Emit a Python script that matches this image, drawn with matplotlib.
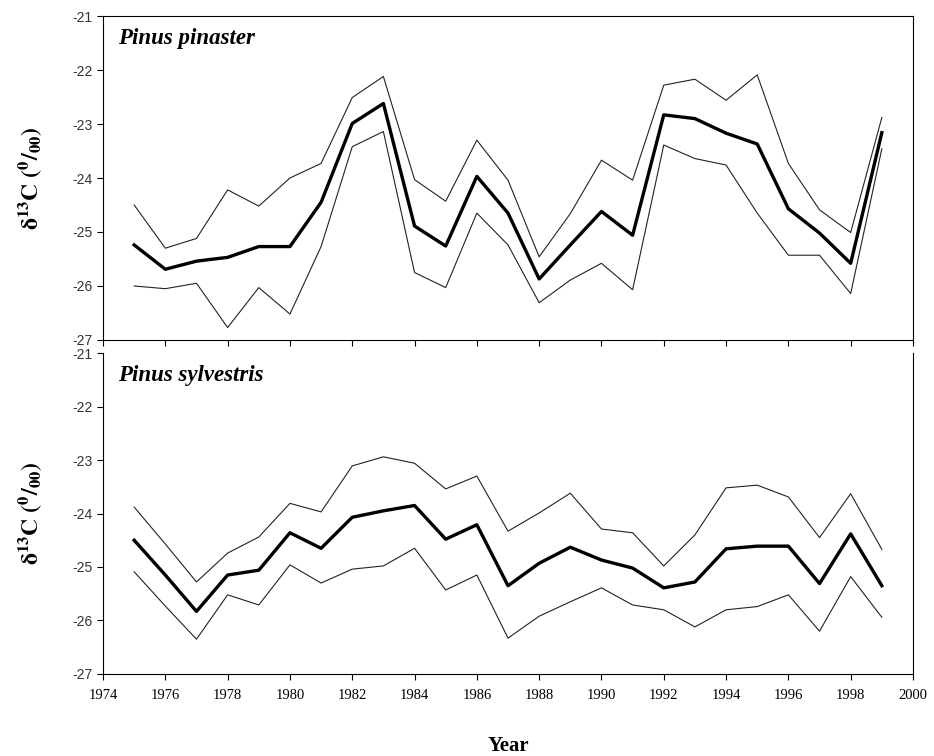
import matplotlib
matplotlib.use("Agg")
import matplotlib.pyplot as plt
import numpy as np

years = list(range(1975, 2000))

# Pinus pinaster
pinaster_mean = [-25.24, -25.69, -25.54, -25.47, -25.27, -25.27, -24.45, -22.99, -22.62, -24.89,
                 -25.26, -23.97, -24.65, -25.87, -25.24, -24.62, -25.06, -22.83, -22.90, -23.17,
                 -23.37, -24.57, -25.02, -25.58, -23.16]
pinaster_upper = [-24.50, -25.30, -25.12, -24.22, -24.52, -24.00, -23.73, -22.51, -22.12, -24.03,
                  -24.43, -23.30, -24.04, -25.46, -24.66, -23.67, -24.04, -22.28, -22.17, -22.56,
                  -22.09, -23.73, -24.59, -25.01, -22.88]
pinaster_lower = [-26.00, -26.05, -25.95, -26.77, -26.03, -26.52, -25.27, -23.42, -23.14, -25.75,
                  -26.03, -24.65, -25.24, -26.31, -25.89, -25.58, -26.07, -23.39, -23.64, -23.76,
                  -24.65, -25.43, -25.43, -26.14, -23.46]

# Pinus sylvestris
sylvestris_mean = [-24.50, -25.15, -25.83, -25.15, -25.06, -24.36, -24.65, -24.07, -23.95, -23.85,
                   -24.48, -24.21, -25.35, -24.93, -24.63, -24.87, -25.02, -25.39, -25.28, -24.66,
                   -24.61, -24.61, -25.31, -24.38, -25.35]
sylvestris_upper = [-23.88, -24.57, -25.28, -24.74, -24.44, -23.81, -23.97, -23.11, -22.94, -23.06,
                    -23.54, -23.30, -24.33, -23.99, -23.62, -24.29, -24.36, -24.98, -24.40, -23.52,
                    -23.47, -23.69, -24.45, -23.63, -24.67]
sylvestris_lower = [-25.09, -25.73, -26.35, -25.52, -25.71, -24.96, -25.30, -25.04, -24.98, -24.65,
                    -25.43, -25.15, -26.33, -25.92, -25.65, -25.39, -25.71, -25.80, -26.12, -25.80,
                    -25.74, -25.52, -26.20, -25.18, -25.94]

plt.rcParams['mathtext.fontset'] = 'stix'
plt.rcParams['axes.unicode_minus'] = False
serif = 'Liberation Serif'
ylab = r'$\mathbf{\delta^{13}C\ (^{0}/_{00})}$'


def setup(ax, label):
    ax.set_xlim(1974, 2000)
    ax.set_ylim(-27, -21)
    ax.set_yticks(np.arange(-27, -20, 1))
    ax.set_xticks(np.arange(1974, 2001, 2))
    ax.tick_params(direction='out', length=4, width=0.8, labelsize=10)
    for lbl in ax.get_yticklabels():
        lbl.set_family('Liberation Sans')
        lbl.set_color('#333333')
    ax.set_ylabel(ylab, fontsize=17, labelpad=20)
    ax.text(0.018, 0.93, label, transform=ax.transAxes, fontsize=16.5, family=serif,
            fontweight='bold', fontstyle='italic', va='center', ha='left')


fig = plt.figure(figsize=(9.34, 7.56), dpi=100)
ax1 = fig.add_axes([0.1103, 0.5503, 0.8672, 0.4285])
ax2 = fig.add_axes([0.1103, 0.1085, 0.8672, 0.4245])

for ax, m, u, l, name in [(ax1, pinaster_mean, pinaster_upper, pinaster_lower, 'Pinus pinaster'),
                          (ax2, sylvestris_mean, sylvestris_upper, sylvestris_lower, 'Pinus sylvestris')]:
    ax.plot(years, u, color='#222222', lw=0.8)
    ax.plot(years, l, color='#222222', lw=0.8)
    ax.plot(years, m, color='black', lw=2.4)
    setup(ax, name)

ax1.set_xticklabels([])
ax2.spines['top'].set_visible(False)
for lbl in ax2.get_xticklabels():
    lbl.set_family(serif)
    lbl.set_fontsize(10.5)
ax2.tick_params(axis='x', pad=7)
ax2.set_xlabel('Year', fontsize=15, family=serif, fontweight='bold', labelpad=24)

plt.savefig('out.png', dpi=100)
